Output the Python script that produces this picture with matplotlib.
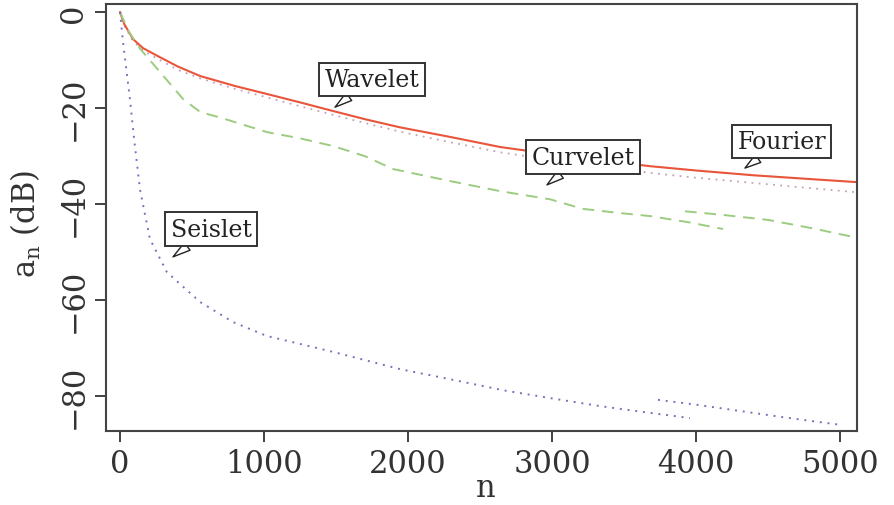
import matplotlib
matplotlib.use("Agg")
import matplotlib.pyplot as plt

plt.rcParams['mathtext.fontset'] = 'dejavuserif'
plt.rcParams['font.family'] = ['DejaVu Serif']

# Fourier (solid red)
fourier_n = [0, 30, 90, 160, 278, 400, 556, 800, 1000, 1250, 1479, 1700, 1944, 2292,
             2639, 3000, 3400, 3681, 4000, 4400, 4800, 5104]
fourier_db = [0, -2.5, -5.6, -7.5, -9.4, -11.3, -13.3, -15.4, -16.9, -18.8, -20.6, -22.3,
              -24.0, -26.0, -28.1, -29.6, -31.1, -32.1, -33.0, -34.0, -34.8, -35.4]

# Wavelet (dotted)
wavelet_n = fourier_n
wavelet_db = [0, -2.8, -6.0, -8.0, -10.0, -12.0, -13.8, -16.0, -17.6, -19.6, -21.4, -23.1,
              -24.9, -27.1, -29.2, -30.8, -32.4, -33.5, -34.5, -35.6, -36.7, -37.5]

# Curvelet (dashed green), two segments
curvelet1_n = [0, 60, 139, 250, 438, 556, 700, 1021, 1250, 1479, 1700, 1896, 2292, 2639,
               2986, 3215, 3450, 3681, 3950, 4188]
curvelet1_db = [0, -4.0, -7.6, -11.5, -18.1, -20.8, -22.0, -25.0, -26.3, -27.9, -30.0, -32.7,
                -35.2, -37.3, -39.0, -41.0, -41.8, -42.5, -43.8, -45.2]
curvelet2_n = [3924, 4200, 4500, 4800, 5069]
curvelet2_db = [-41.5, -42.3, -43.3, -45.0, -46.7]

# Seislet (dotted blue), two segments
seislet1_n = [0, 20, 69, 100, 139, 208, 326, 556, 785, 1021, 1479, 1944, 2292, 2660, 3000,
              3333, 3650, 3958]
seislet1_db = [0, -6.0, -18.1, -27.0, -37.0, -47.3, -54.2, -60.4, -64.6, -67.5, -70.8, -74.4,
               -76.5, -78.8, -80.5, -82.1, -83.4, -84.6]
seislet2_n = [3736, 4000, 4300, 4600, 5000]
seislet2_db = [-80.8, -81.8, -83.1, -84.4, -86.0]

# labels: (text, box center, arrow tip)
labels = [
    ("Wavelet", (1750, -14.0), (1493, -19.8)),
    ("Curvelet", (3215, -30.2), (2965, -36.0)),
    ("Fourier", (4597, -26.9), (4340, -32.5)),
    ("Seislet", (632, -45.2), (368, -51.0)),
]

xticks = [0, 1000, 2000, 3000, 4000, 5000]
yticks = [0, -20, -40, -60, -80]

fig = plt.figure(figsize=(8.94, 5.06), dpi=100)
ax = fig.add_axes([0.1186, 0.1462, 0.84, 0.8439])

ax.plot(wavelet_n, wavelet_db, color='#c6a0b4', lw=1.3, ls=(0, (1, 3)))
ax.plot(fourier_n, fourier_db, color='#e8553a', lw=1.5)
ax.plot(curvelet1_n, curvelet1_db, color='#9ccc80', lw=1.4, ls=(0, (6, 4)))
ax.plot(curvelet2_n, curvelet2_db, color='#9ccc80', lw=1.4, ls=(0, (6, 4)))
ax.plot(seislet1_n, seislet1_db, color='#7670bd', lw=1.4, ls=(0, (1, 3)))
ax.plot(seislet2_n, seislet2_db, color='#7670bd', lw=1.4, ls=(0, (1, 3)))

for txt, pos, tip in labels:
    ax.annotate(txt, xy=tip, xytext=pos, ha='center', va='center', fontsize=17,
                family='DejaVu Serif', color='#222222',
                bbox=dict(boxstyle='square,pad=0.22', fc='white', ec='#333333', lw=1.4),
                arrowprops=dict(arrowstyle='wedge,tail_width=0.4,shrink_factor=0.5',
                                fc='white', ec='#222222', lw=1.0, shrinkA=0, shrinkB=0))

ax.set_xlim(-97, 5118)
ax.set_ylim(-87.3, 1.7)
ax.set_xticks(xticks)
ax.set_xticklabels([str(v) for v in xticks])
ax.set_yticks(yticks)
ax.set_yticklabels([str(v).replace('-', '\u2212') for v in yticks], rotation=90, va='center')
ax.tick_params(axis='both', direction='out', length=8, width=1.3, labelsize=22,
               colors='#333333', pad=4)
for s in ax.spines.values():
    s.set_linewidth(1.5)
    s.set_color('#444444')

ax.set_xlabel('n', fontsize=22, color='#333333')
ax.xaxis.label.set_va('baseline')
ax.xaxis.set_label_coords(0.505, -0.152)
ax.set_ylabel(r'$\mathregular{a_n}$ (dB)', fontsize=22, color='#333333')
ax.yaxis.set_label_coords(-0.084, 0.487)

fig.savefig('out.png', dpi=100)
